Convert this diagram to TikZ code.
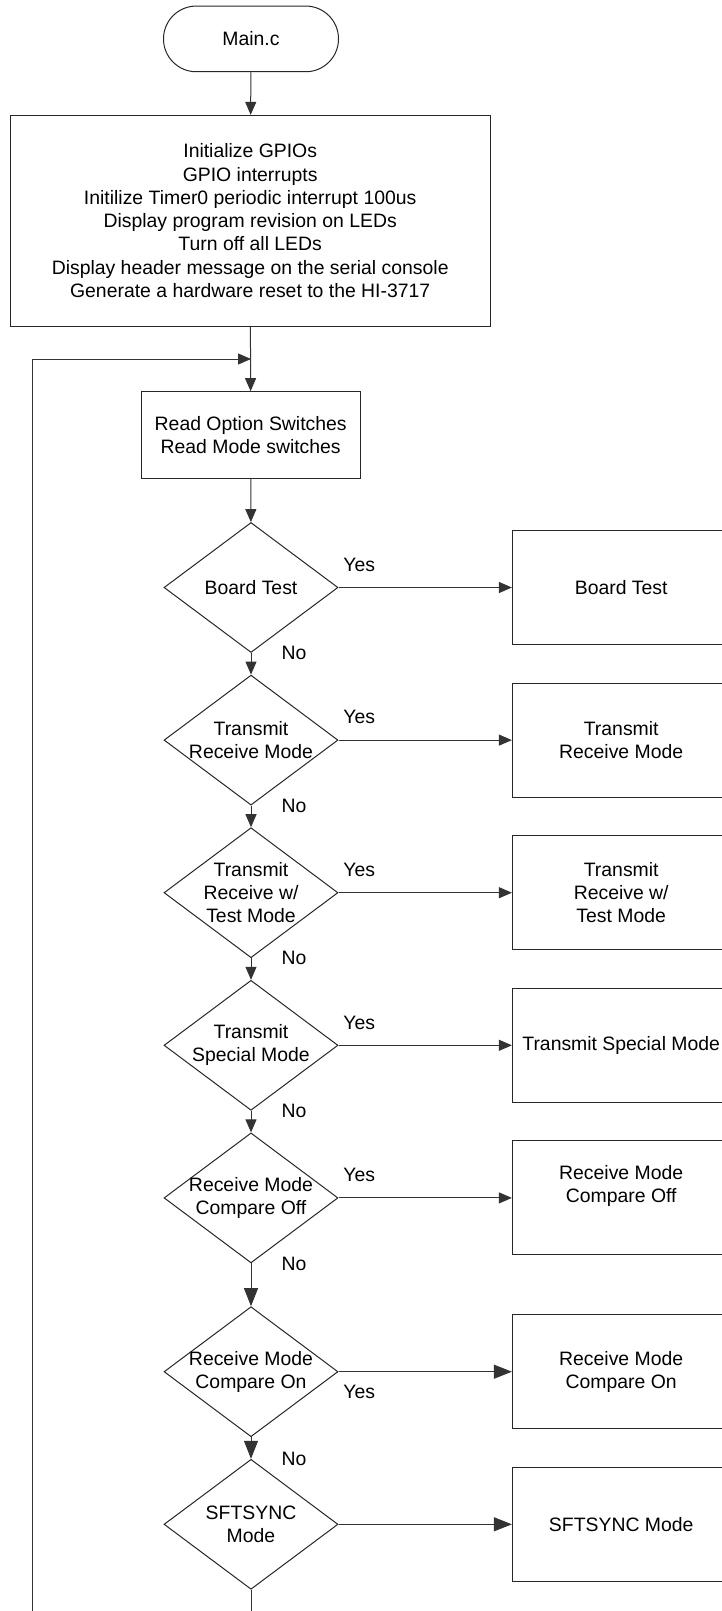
\documentclass[tikz,border=0pt]{standalone}
\usepackage{fontspec}
\setmainfont{Liberation Sans}
\usetikzlibrary{shapes.geometric,arrows.meta}

\begin{document}
\begin{tikzpicture}[x=1pt, y=-1pt, line width=1pt,
  font=\fontsize{19.4}{23.3}\selectfont,
  blk/.style={draw=black!85, minimum width=217.6pt, minimum height=114pt, align=center, inner sep=0pt},
  dec/.style={draw=black!85, diamond, minimum width=174pt, minimum height=130pt, inner sep=0pt},
  conn/.style={draw=black!80, -{Triangle[length=13pt,width=11pt]}},
  bconn/.style={draw=black!80, -{Triangle[length=18pt,width=14pt]}},
  tag/.style={inner sep=0pt}]

\useasboundingbox (0,0) rectangle (722,1611);
\clip (0,0) rectangle (722,1611);

% nodes
\node[draw=black!85, rounded corners=32.8pt, minimum width=175pt, minimum height=65.7pt] (start) at (251,38.9) {Main.c};
\node[draw=black!85, minimum width=480pt, minimum height=210.7pt, align=center] (init) at (250.2,220.7)
  {Initialize GPIOs\\GPIO interrupts\\Initilize Timer0 periodic interrupt 100us\\Display program revision on LEDs\\Turn off all LEDs\\Display header message on the serial console\\Generate a hardware reset to the HI-3717};
\node[draw=black!85, minimum width=218.7pt, minimum height=86.6pt, align=center] (read) at (250.7,435) {Read Option Switches\\Read Mode switches};

\node[dec, label={[align=center]center:Board Test}] (d1) at (251,587.5) {};
\node[dec, label={[align=center]center:Transmit\\Receive Mode}] (d2) at (251,740.1) {};
\node[dec, label={[align=center]center:Transmit\\Receive w/\\Test Mode}] (d3) at (251,892.7) {};
\node[dec, label={[align=center]center:Transmit\\Special Mode}] (d4) at (251,1045.3) {};
\node[dec, label={[align=center]center:Receive Mode\\Compare Off}] (d5) at (251,1197.9) {};
\node[dec, label={[align=center]center:Receive Mode\\Compare On}] (d6) at (251,1371.7) {};
\node[dec, label={[align=center]center:SFTSYNC\\Mode}] (d7) at (251,1524.3) {};

\node[blk] (b1) at (621.2,587.5) {Board Test};
\node[blk] (b2) at (621.2,740.1) {Transmit\\Receive Mode};
\node[blk] (b3) at (621.2,892.7) {Transmit\\Receive w/\\Test Mode};
\node[blk] (b4) at (621.2,1045.3) {Transmit Special Mode};
\node[blk, label={[align=center, yshift=12pt]center:Receive Mode\\Compare Off}] (b5) at (621.2,1197.9) {};
\node[blk] (b6) at (621.2,1371.7) {Receive Mode\\Compare On};
\node[blk] (b7) at (621.2,1524.3) {SFTSYNC Mode};

\coordinate (jn) at (251,359);
\coordinate (lp) at (32,1650);

% main line
\draw[conn] (start) -- (init);
\draw[conn] (init) -- (read);
\draw[conn] (read) -- (d1);
\draw[conn] (d1) -- node[tag, pos=0, xshift=43pt] (n1) {No} (d2);
\draw[conn] (d2) -- node[tag, pos=0, xshift=43pt] (n2) {No} (d3);
\draw[conn] (d3) -- node[tag, pos=0, xshift=43pt] (n3) {No} (d4);
\draw[conn] (d4) -- node[tag, pos=0, xshift=43pt] (n4) {No} (d5);
\draw[bconn] (d5) -- node[tag, pos=0, xshift=43pt] (n5) {No} (d6);
\draw[bconn] (d6) -- node[tag, pos=1, xshift=43pt] (n6) {No} (d7);

% yes branches
\draw[conn] (d1) -- node[tag, pos=0.12, yshift=22.7pt] (y1) {Yes} (b1);
\draw[conn] (d2) -- node[tag, pos=0.12, yshift=22.7pt] (y2) {Yes} (b2);
\draw[conn] (d3) -- node[tag, pos=0.12, yshift=22.7pt] (y3) {Yes} (b3);
\draw[conn] (d4) -- node[tag, pos=0.12, yshift=22.7pt] (y4) {Yes} (b4);
\draw[conn] (d5) -- node[tag, pos=0.12, yshift=22.7pt] (y5) {Yes} (b5);
\draw[bconn] (d6) -- node[tag, pos=0.12, yshift=-20pt] (y6) {Yes} (b6);
\draw[bconn] (d7) -- (b7);

% loop back
\draw[conn] (d7.south) |- (lp) |- (jn);

\end{tikzpicture}
\end{document}
